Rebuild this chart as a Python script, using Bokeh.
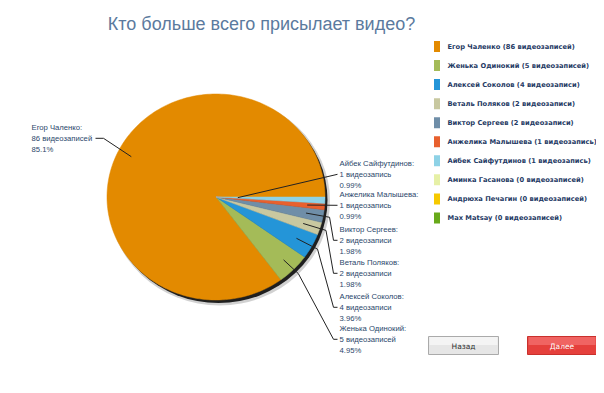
import math
from bokeh.plotting import figure
from bokeh.models import Range1d, ColumnDataSource
from bokeh.core.properties import value
from bokeh.embed import file_html
from bokeh.resources import INLINE

# ---------------- data ----------------
title_text = "Кто больше всего присылает видео?"
names = ["Егор Чаленко", "Женька Одинокий", "Алексей Соколов", "Веталь Поляков",
         "Виктор Сергеев", "Анжелика Малышева", "Айбек Сайфутдинов",
         "Аминка Гасанова", "Андрюха Печагин", "Max Matsay"]
label_names = ["Егор Чаленко", "Женька Одинокий", "Алексей Соколов", "Веталь Поляков",
               "Виктор Сергеев", "Анжелика Малышева", "Айбек Сайфутдинов",
               "Аминка Гасанова", "Андрюха Печагин", "Max Matsay"]
counts = [86, 5, 4, 2, 2, 1, 1, 0, 0, 0]
colors = ["#e38a00", "#a4bb58", "#2495d8", "#c8c8a0", "#6f8ea8", "#e8602e",
          "#8ed2e6", "#e6f0a6", "#f6c900", "#68a91a"]
button_labels = ["Назад", "Далее"]


def plural(n):
    if n % 10 == 1 and n % 100 != 11:
        return "видеозапись"
    if 2 <= n % 10 <= 4 and not 12 <= n % 100 <= 14:
        return "видеозаписи"
    return "видеозаписей"


# ---------------- figure ----------------
W, H = 596, 385
p = figure(width=W, height=H, x_range=Range1d(0, W), y_range=Range1d(H, 0),
           output_backend="svg", toolbar_location=None, min_border=0,
           x_axis_location=None, y_axis_location=None)
p.grid.visible = False
p.outline_line_color = None
p.background_fill_color = "white"
p.border_fill_color = "white"

# title
p.text(x=[261], y=[23], text=[title_text], text_font=value("Liberation Sans"),
       text_font_size="18px", text_color="#5b7a9e", text_align="center",
       text_baseline="alphabetic")

# ---------------- pie ----------------
cx, cy = 215.5, 196.5
rx, ry = 109, 103
total = sum(counts)

# shadow
p.ellipse(x=[cx + 3.5], y=[cy + 4], width=[2 * rx + 3], height=[2 * ry + 3],
          fill_color="black", fill_alpha=0.18, line_color=None)
p.ellipse(x=[cx + 2.5], y=[cy + 3], width=[2 * rx], height=[2 * ry],
          fill_color="black", fill_alpha=0.85, line_color=None)


def pt(theta, r_frac=1.0):
    return (cx + rx * r_frac * math.cos(theta), cy - ry * r_frac * math.sin(theta))


xs, ys, fc = [], [], []
mids = []
start = 0.0
for n, c in zip(counts, colors):
    if n == 0:
        mids.append(None)
        continue
    a0 = start
    a1 = start + n / total * 2 * math.pi
    steps = max(4, int((a1 - a0) / (2 * math.pi) * 240))
    px = [cx]
    py = [cy]
    for k in range(steps + 1):
        t = a0 + (a1 - a0) * k / steps
        x, y = pt(t)
        px.append(x)
        py.append(y)
    xs.append(px)
    ys.append(py)
    fc.append(c)
    mids.append((a0 + a1) / 2)
    start = a1

p.patches(xs=xs, ys=ys, fill_color=fc, line_color=fc, line_width=0.5)

# ---------------- pie labels ----------------
lab_font = value("Liberation Sans")
lab_size = "7.7px"
lab_color = "#2b476b"
line_gap = 10.8

lx, ly, lt = [], [], []
conn_xs, conn_ys = [], []

# big slice label on the left
i0 = 0
pct0 = counts[i0] / total * 100
left_x, left_top = 31, 127
for k, s in enumerate([label_names[i0] + ":", f"{counts[i0]} {plural(counts[i0])}", f"{pct0:.3g}%"]):
    lx.append(left_x); ly.append(left_top + k * line_gap); lt.append(s)
ax, ay = pt(mids[i0], 0.87)
conn_xs.append([95, 103, ax]); conn_ys.append([left_top + line_gap, left_top + line_gap, ay])

# small slices on the right (top to bottom)
small = [i for i in range(1, len(counts)) if counts[i] > 0][::-1]
right_x = 339
right_tops = [163, 194, 229, 262, 296, 328]
anchor_frac = [0.2, 0.84, 0.84, 0.84, 0.84, 0.87]
for j, i in enumerate(small):
    top = right_tops[j]
    pct = counts[i] / total * 100
    for k, s in enumerate([label_names[i] + ":", f"{counts[i]} {plural(counts[i])}", f"{pct:.3g}%"]):
        lx.append(right_x); ly.append(top + k * line_gap); lt.append(s)
    ax, ay = pt(mids[i], anchor_frac[j])
    yl = top + line_gap
    if j == 0 or j == 1:
        conn_xs.append([ax, right_x - 2]); conn_ys.append([ay, yl])
    else:
        ex, ey = pt(mids[i], 1.06)
        conn_xs.append([ax, ex, 333, right_x - 2]); conn_ys.append([ay, ey, yl, yl])

p.multi_line(xs=conn_xs, ys=conn_ys, line_color="#222222", line_width=1)
p.text(x=lx, y=ly, text=lt, text_font=lab_font, text_font_size=lab_size,
       text_color=lab_color, text_align="left", text_baseline="middle")

# ---------------- legend ----------------
leg_top = 46
leg_step = 19.05
leg_y = [leg_top + k * leg_step for k in range(len(names))]
leg_src = ColumnDataSource(dict(
    x=[436.5] * len(names), y=leg_y, c=colors,
    tx=[447] * len(names),
    t=[f"{n} ({c} {plural(c)})" for n, c in zip(names, counts)]))
p.rect(x="x", y="y", width=6, height=11, fill_color="c", line_color=None, source=leg_src)
p.text(x="tx", y="y", text="t", text_font=value("DejaVu Sans"), text_font_style="bold",
       text_font_size="6.7px", text_color="#1f3a64", text_baseline="middle", source=leg_src)

# ---------------- buttons ----------------
bx = [463, 561.5]
by = [345, 345]
p.rect(x=bx, y=by, width=[70, 69], height=[18, 18],
       fill_color=["#e6e6e6", "#e5403c"], line_color=["#aaaaaa", "#c9302c"], line_width=1)
p.rect(x=bx, y=[340.5, 340.5], width=[68, 67], height=[8, 8],
       fill_color=["#f4f4f4", "#f06462"], line_color=None)
p.text(x=bx, y=[345.5, 345.5], text=button_labels, text_font=value("DejaVu Sans"),
       text_font_size="7.5px", text_color=["#333333", "#ffffff"], text_align="center",
       text_baseline="middle")

open("out.html", "w").write(file_html(p, INLINE))
